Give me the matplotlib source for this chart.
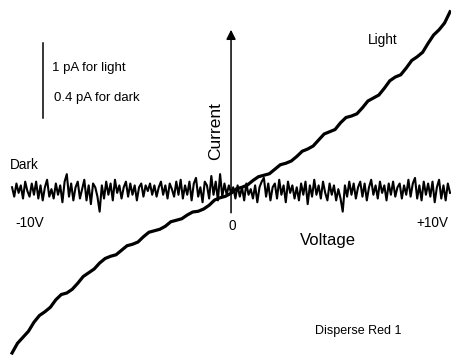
import numpy as np
import matplotlib
matplotlib.use("Agg")
import matplotlib.pyplot as plt

plt.rcParams['font.family'] = ['Liberation Sans', 'DejaVu Sans']

# Light I-V trace (voltage in V, current in pA)
light_v = [-10.0, -9.75, -9.5, -9.25, -9.0, -8.75, -8.5, -8.25, -8.0, -7.75,
           -7.5, -7.25, -7.0, -6.75, -6.5, -6.25, -6.0, -5.75, -5.5, -5.25,
           -5.0, -4.75, -4.5, -4.25, -4.0, -3.75, -3.5, -3.25, -3.0, -2.75,
           -2.5, -2.25, -2.0, -1.75, -1.5, -1.25, -1.0, -0.75, -0.5, -0.25,
           0.0, 0.25, 0.5, 0.75, 1.0, 1.25, 1.5, 1.75, 2.0, 2.25,
           2.5, 2.75, 3.0, 3.25, 3.5, 3.75, 4.0, 4.25, 4.5, 4.75,
           5.0, 5.25, 5.5, 5.75, 6.0, 6.25, 6.5, 6.75, 7.0, 7.25,
           7.5, 7.75, 8.0, 8.25, 8.5, 8.75, 9.0, 9.25, 9.5, 9.75, 10.0]
light_i = [-2.16, -2.03, -1.95, -1.87, -1.75, -1.66, -1.61, -1.55, -1.45, -1.38,
           -1.36, -1.31, -1.23, -1.14, -1.09, -1.04, -0.96, -0.90, -0.87, -0.85,
           -0.79, -0.73, -0.71, -0.68, -0.61, -0.55, -0.53, -0.51, -0.47, -0.41,
           -0.39, -0.37, -0.32, -0.28, -0.27, -0.24, -0.19, -0.12, -0.09, -0.07,
           -0.03, 0.03, 0.05, 0.08, 0.14, 0.19, 0.21, 0.23, 0.29, 0.35,
           0.37, 0.40, 0.46, 0.53, 0.56, 0.60, 0.68, 0.76, 0.79, 0.82,
           0.91, 0.98, 1.00, 1.03, 1.11, 1.20, 1.24, 1.28, 1.37, 1.47,
           1.52, 1.55, 1.64, 1.74, 1.79, 1.85, 1.97, 2.08, 2.15, 2.24, 2.39]

# Dark trace, 0.1 V steps from -10 V to +10 V (current in pA)
dark_i = [0.02, -0.03, 0.04, -0.01, 0.03, -0.04, 0.05, 0.00, -0.03, 0.04,
          -0.02, 0.05, -0.04, 0.03, -0.05, 0.02, 0.06, -0.03, 0.01, -0.04,
          0.04, -0.02, 0.03, -0.06, 0.05, 0.09, -0.03, 0.04, -0.05, 0.02,
          0.05, -0.04, 0.01, 0.06, -0.05, 0.03, -0.07, 0.04, 0.02, -0.03,
          -0.11, 0.03, -0.04, 0.05, -0.02, 0.04, -0.05, 0.06, -0.01, 0.03,
          -0.04, 0.02, 0.05, -0.03, 0.04, -0.02, 0.03, -0.05, 0.02, 0.04,
          -0.03, 0.03, 0.00, 0.04, -0.02, 0.03, -0.03, 0.02, 0.05, -0.02,
          0.03, -0.04, 0.04, 0.01, -0.03, 0.05, -0.02, 0.06, -0.04, 0.03,
          -0.02, 0.05, -0.05, 0.04, 0.07, -0.03, 0.02, -0.06, 0.05, 0.03,
          -0.04, 0.08, -0.02, 0.05, -0.05, 0.09, -0.03, 0.04, -0.02, 0.03,
          -0.01, 0.02, -0.04, 0.03, -0.03, 0.02, -0.05, 0.04, -0.02, 0.01,
          -0.04, 0.03, -0.06, 0.02, 0.05, 0.07, -0.03, 0.04, -0.05, 0.02,
          0.04, -0.04, 0.06, -0.02, 0.03, -0.06, 0.05, -0.01, 0.03, -0.04,
          0.02, -0.05, 0.04, -0.02, 0.05, -0.07, 0.03, -0.03, 0.06, -0.02,
          0.03, -0.04, 0.05, -0.01, -0.05, 0.04, -0.02, 0.03, -0.05, 0.01,
          -0.04, -0.11, 0.03, -0.03, 0.05, -0.02, 0.04, -0.04, 0.02, 0.05,
          -0.03, 0.04, -0.05, 0.02, 0.06, -0.02, 0.03, -0.04, 0.05, -0.01,
          0.03, -0.05, 0.04, -0.02, 0.05, -0.03, 0.02, 0.04, -0.04, 0.03,
          -0.02, 0.06, -0.03, 0.04, 0.07, -0.04, 0.03, -0.05, 0.05, -0.02,
          0.04, -0.03, 0.05, -0.06, 0.02, 0.06, -0.04, 0.03, -0.05, 0.04,
          -0.01]
dark_v = np.linspace(-10, 10, len(dark_i))
dark_scale = 1 / 0.4   # 0.4 pA dark = 1 pA light on the plot

fig = plt.figure(figsize=(4.52, 3.56), dpi=100)
ax = fig.add_axes([0, 0, 1, 1])
ax.set_xlim(-10.55, 10.09)
ax.set_ylim(-2.2, 2.547)
ax.axis('off')

ax.plot(light_v, light_i, color='black', lw=2.3, solid_joinstyle='miter')
ax.plot(dark_v, np.array(dark_i) * dark_scale, color='black', lw=1.5)

# current axis with arrow
ax.annotate('', xy=(0.0, 2.15), xytext=(0.0, -0.29),
            arrowprops=dict(arrowstyle='-|>', lw=1.1, color='black',
                            mutation_scale=14, shrinkA=0, shrinkB=0))

# scale bar
ax.plot([-8.58, -8.58], [0.97, 1.97], color='black', lw=1.1)

def put(x, y, s, **kw):
    ax.text(x / 452, 1 - y / 356, s, transform=ax.transAxes, **kw)

put(52, 68, "1 pA for light", fontsize=9.5, va='center')
put(54, 98, "0.4 pA for dark", fontsize=9.5, va='center')
put(10, 165, "Dark", fontsize=9.8, va='center')
put(368, 40, "Light", fontsize=9.8, va='center')
put(15, 223, "-10V", fontsize=9.8, va='center')
put(232, 226, "0", fontsize=9.8, va='center', ha='center')
put(448, 223, "+10V", fontsize=9.8, va='center', ha='right')
put(300, 240, "Voltage", fontsize=12, va='center')
put(216, 131, "Current", fontsize=12.5, va='center', ha='center', rotation=90)
put(315, 331, "Disperse Red 1", fontsize=9, va='center')

fig.savefig("out.png", dpi=100)
